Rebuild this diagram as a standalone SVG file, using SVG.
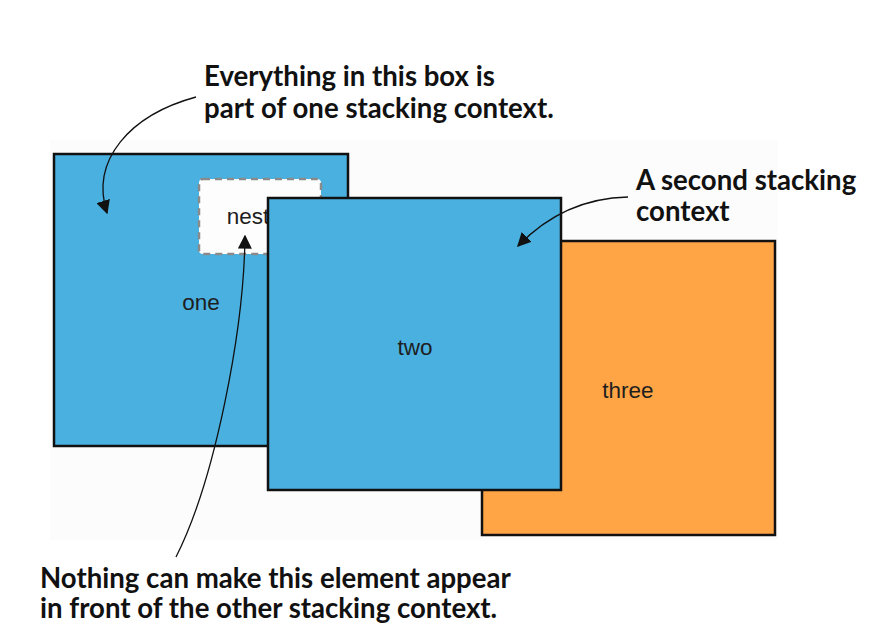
<svg xmlns="http://www.w3.org/2000/svg" width="869" height="640" viewBox="0 0 869 640">
<style>
.note{font-family:Lato,"Open Sans","Liberation Sans",sans-serif;font-weight:bold;font-size:27.6px;fill:#111}
.lbl{font-family:"Liberation Sans",Arial,sans-serif;font-size:22.5px;fill:#1e1e1e;text-anchor:middle}
.box{stroke:#111;stroke-width:2.5}
.blue{fill:#49b0e0}
.orange{fill:#ffa545}
.conn{fill:none;stroke:#111;stroke-width:1.3}
</style>
<defs>
<marker id="ah2" viewBox="0 0 10 10" refX="9" refY="5" markerWidth="14" markerHeight="14" markerUnits="userSpaceOnUse" orient="auto">
<path d="M0,0 L10,5 L0,10 z" fill="#111"/>
</marker>
</defs>
<rect x="50" y="140" width="728" height="400" fill="#fcfcfc"/>
<g id="three">
<rect class="box orange" x="482" y="241" width="293" height="294"/>
<text class="lbl" x="628" y="398">three</text>
</g>
<g id="one">
<rect class="box blue" x="54" y="154" width="294" height="292"/>
<text class="lbl" x="201" y="310">one</text>
</g>
<g id="nest">
<rect x="199" y="179" width="122" height="75" rx="4" fill="#fdfdfd" stroke="#8a8a8a" stroke-width="2.5" stroke-dasharray="7,5"/>
<text class="lbl" x="248" y="224">nest</text>
</g>
<g id="two">
<rect class="box blue" x="268" y="198" width="293" height="292"/>
<text class="lbl" x="415" y="355">two</text>
</g>
<g id="notes">
<text class="note" x="204" y="86">Everything in this box is</text>
<text class="note" x="204" y="118">part of one stacking context.</text>
<text class="note" x="636" y="190">A second stacking</text>
<text class="note" x="636" y="221">context</text>
<text class="note" x="40" y="588">Nothing can make this element appear</text>
<text class="note" x="40" y="618">in front of the other stacking context.</text>
</g>
<g id="connectors">
<path class="conn" marker-end="url(#ah2)" d="M196,97 C130,115 90,160 107,213"/>
<path class="conn" marker-end="url(#ah2)" d="M176,557 C215,480 244,330 245,236"/>
<path class="conn" marker-end="url(#ah2)" d="M628,197 C580,198 545,218 518,246"/>
</g>
</svg>
